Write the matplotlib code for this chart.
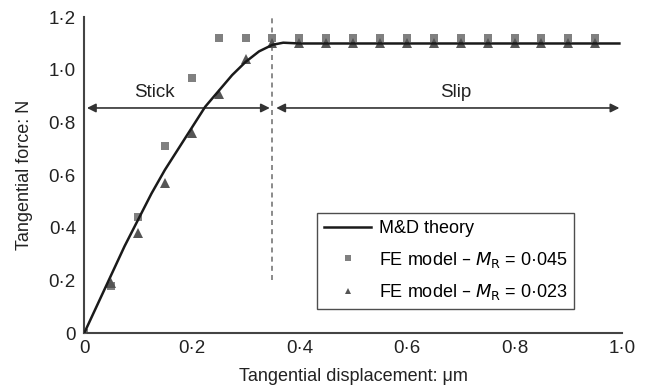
import matplotlib
matplotlib.use('Agg')
from matplotlib import pyplot

pyplot.rcParams['font.family'] = ['Liberation Sans', 'DejaVu Sans']

# M&D theory curve
theoryX = [0, 0.025, 0.05, 0.075, 0.1, 0.125, 0.15, 0.175, 0.2, 0.225, 0.25, 0.275,
           0.3, 0.325, 0.35, 0.37, 0.4, 0.5, 0.6, 0.7, 0.8, 0.9, 0.995]
theoryY = [0, 0.11, 0.22, 0.33, 0.43, 0.53, 0.62, 0.70, 0.78, 0.86, 0.92, 0.98,
           1.03, 1.07, 1.095, 1.103, 1.10, 1.10, 1.10, 1.10, 1.10, 1.10, 1.10]

# FE model points
feX = [0, 0.05, 0.1, 0.15, 0.2, 0.25, 0.3, 0.35, 0.4, 0.45, 0.5, 0.55, 0.6,
       0.65, 0.7, 0.75, 0.8, 0.85, 0.9, 0.95]
fe045 = [0, 0.18, 0.44, 0.71, 0.97, 1.12, 1.12, 1.12, 1.12, 1.12, 1.12, 1.12, 1.12,
         1.12, 1.12, 1.12, 1.12, 1.12, 1.12, 1.12]
fe023 = [0, 0.19, 0.38, 0.57, 0.76, 0.91, 1.04, 1.10, 1.10, 1.10, 1.10, 1.10, 1.10,
         1.10, 1.10, 1.10, 1.10, 1.10, 1.10, 1.10]

xTicks = [0, 0.2, 0.4, 0.6, 0.8, 1.0]
xTickLabels = ['0', '0·2', '0·4', '0·6', '0·8', '1·0']
yTicks = [0, 0.2, 0.4, 0.6, 0.8, 1.0, 1.2]
yTickLabels = ['0', '0·2', '0·4', '0·6', '0·8', '1·0', '1·2']

fig = pyplot.figure(figsize=(6.48, 3.9), dpi=100)
ax = fig.add_axes([0.130, 0.146, 0.830, 0.810])

ax.plot([0.35, 0.35], [0.2, 1.2], color='#777777', linestyle=(0, (3, 2.5)), linewidth=1.2, zorder=1)

ax.plot(feX, fe045, linestyle='none', marker='s', markersize=5.5, color='#808080',
        markeredgewidth=0, zorder=2, label='FE model – $M_{\\mathrm{R}}$ = 0·045')
ax.plot(feX, fe023, linestyle='none', marker='^', markersize=6.5, color='#555555',
        markeredgewidth=0, zorder=3, label='FE model – $M_{\\mathrm{R}}$ = 0·023')
ax.plot(theoryX, theoryY, color='#1a1a1a', linewidth=1.8, zorder=4, label='M&D theory')

# stick / slip arrows
arrowStyle = dict(arrowstyle='<|-|>', color='#333333', lw=1.2, mutation_scale=13, shrinkA=0, shrinkB=0)
ax.annotate('', xy=(0.005, 0.855), xytext=(0.345, 0.855), arrowprops=arrowStyle)
ax.annotate('', xy=(0.357, 0.855), xytext=(0.995, 0.855), arrowprops=arrowStyle)
ax.text(0.13, 0.915, 'Stick', ha='center', va='center', fontsize=13.5, color='#222222')
ax.text(0.69, 0.915, 'Slip', ha='center', va='center', fontsize=13.5, color='#222222')

ax.set_xlim(0, 1.0)
ax.set_ylim(0, 1.2)
ax.set_xticks(xTicks)
ax.set_xticklabels(xTickLabels)
ax.set_yticks(yTicks)
ax.set_yticklabels(yTickLabels)
ax.tick_params(length=0, labelsize=13.5, colors='#222222')
ax.tick_params(axis='x', pad=5)
ax.tick_params(axis='y', pad=6)
ax.spines['top'].set_visible(False)
ax.spines['right'].set_visible(False)
for s in ['left', 'bottom']:
    ax.spines[s].set_color('#444444')
    ax.spines[s].set_linewidth(1.5)

ax.set_xlabel('Tangential displacement: μm', fontsize=13, color='#222222', labelpad=8)
ax.set_ylabel('Tangential force: N', fontsize=13, color='#222222', labelpad=11)

handles, labels = ax.get_legend_handles_labels()
order = [2, 0, 1]
leg = ax.legend([handles[i] for i in order], [labels[i] for i in order],
                loc='lower left', bbox_to_anchor=(0.433, 0.076), fontsize=13,
                frameon=True, fancybox=False, edgecolor='#222222', handlelength=2.6,
                markerscale=0.7, borderpad=0.4, labelspacing=0.68, handletextpad=0.4,
                borderaxespad=0)
leg.get_frame().set_linewidth(1.0)

fig.savefig('out.png', dpi=100)
